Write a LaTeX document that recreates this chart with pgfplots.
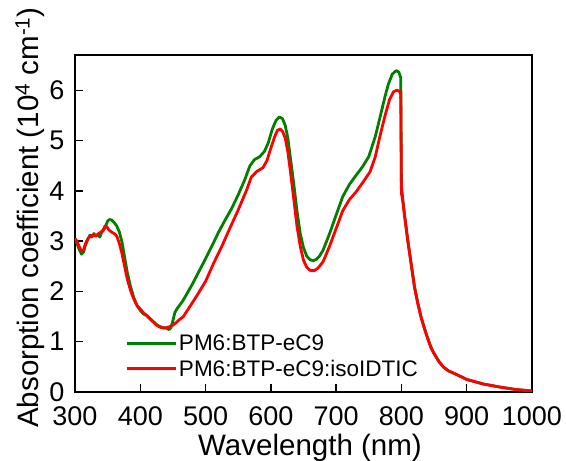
\documentclass[border=0pt]{standalone}
\usepackage{pgfplots}
\pgfplotsset{compat=1.18}
\usepackage{fontspec}
\setmainfont{Liberation Sans}
\definecolor{dgreen}{RGB}{0,128,0}
\begin{document}
\begin{tikzpicture}
\useasboundingbox (-75pt,-69pt) rectangle (491pt,392pt);
\begin{axis}[
  at={(0,0)}, anchor=south west,
  scale only axis, width=457pt, height=337pt,
  xmin=300, xmax=1000, ymin=0, ymax=6.7,
  xtick={300,400,...,1000}, ytick={0,1,...,6},
  tick pos=left, tick align=inside,
  major tick length=8pt,
  axis line style={line width=1.6pt},
  every tick/.style={black, line width=1.4pt},
  /pgf/number format/assume math mode=true,
  /pgf/number format/1000 sep={},
  ticklabel style={font=\fontsize{27}{31}\selectfont, inner sep=0pt},
  xticklabel style={anchor=north, yshift=-14pt},
  yticklabel style={anchor=east, xshift=-10.5pt},
  xlabel={Wavelength (nm)},
  ylabel={Absorption coefficient (10\textsuperscript{4} cm\textsuperscript{-1})},
  label style={font=\fontsize{29.5}{34}\selectfont, inner sep=0pt},
  xlabel style={at={(axis description cs:0.5,0)}, anchor=north, xshift=6.5pt, yshift=-42pt},
  ylabel style={at={(axis description cs:0,0.5)}, anchor=south, xshift=6pt, yshift=30pt},
  legend style={draw=none, fill=none, at={(50pt,12pt)}, anchor=south west,
    font=\fontsize{22.5}{26}\selectfont, row sep=4pt, inner sep=0pt,
    /tikz/every even column/.append style={column sep=0pt}},
  legend cell align=left,
  legend image code/.code={\draw[#1] (0pt,0pt) -- (49pt,0pt);},
  every axis plot/.append style={line width=2.8pt, line join=round},
]
\addplot[dgreen] coordinates {
(300,3.05)(303,2.95)(306,2.85)(310,2.74)(313,2.78)(316,2.92)(320,3.05)(323,3.12)
(326,3.08)(329,3.15)(332,3.10)(335,3.13)(338,3.08)(341,3.18)(344,3.22)(347,3.30)
(350,3.40)(353,3.43)(356,3.42)(360,3.37)(364,3.30)(368,3.18)(372,2.98)(376,2.68)
(380,2.38)(385,2.10)(390,1.88)(395,1.72)(400,1.62)(405,1.55)(410,1.52)(415,1.46)
(420,1.40)(425,1.34)(430,1.30)(435,1.28)(440,1.27)(444,1.24)(447,1.28)(450,1.42)
(453,1.58)(456,1.65)(460,1.72)(465,1.81)(470,1.92)(480,2.15)(490,2.40)(500,2.65)
(510,2.91)(520,3.18)(530,3.42)(540,3.65)(550,3.92)(560,4.22)(568,4.50)(575,4.62)
(583,4.68)(590,4.78)(596,4.95)(602,5.22)(608,5.40)(613,5.47)(618,5.43)(622,5.30)
(626,5.05)(630,4.65)(635,4.15)(640,3.60)(645,3.15)(650,2.87)(655,2.70)(660,2.63)
(665,2.61)(670,2.64)(675,2.71)(680,2.82)(690,3.15)(700,3.52)(710,3.88)(720,4.12)
(730,4.30)(740,4.47)(750,4.68)(760,5.08)(767,5.45)(775,5.88)(780,6.12)(786,6.32)
(792,6.39)(796,6.36)(799,6.25)(800,4.10)(802,3.85)(805,3.50)(810,3.00)(815,2.55)
(820,2.10)(825,1.78)(830,1.50)(835,1.28)(840,1.08)(845,0.90)(850,0.77)(857,0.62)
(864,0.50)(872,0.42)(884,0.35)(900,0.25)(925,0.16)(950,0.10)(975,0.05)(1000,0.02)
};
\addlegendentry{PM6:BTP-eC9}
\addplot[red] coordinates {
(300,3.05)(303,3.00)(306,2.90)(310,2.80)(313,2.82)(316,2.95)(320,3.05)(324,3.10)
(328,3.12)(332,3.10)(336,3.15)(340,3.18)(343,3.22)(346,3.30)(349,3.28)(352,3.22)
(356,3.18)(360,3.15)(364,3.10)(368,2.95)(372,2.75)(376,2.50)(380,2.25)(385,2.02)
(390,1.85)(395,1.72)(400,1.65)(405,1.57)(410,1.52)(415,1.45)(420,1.39)(425,1.33)
(430,1.29)(435,1.27)(440,1.28)(445,1.30)(450,1.33)(455,1.38)(460,1.44)(466,1.50)
(475,1.68)(486,1.90)(500,2.20)(512,2.55)(525,2.90)(537,3.25)(550,3.62)(563,4.02)
(570,4.27)(578,4.38)(588,4.46)(594,4.60)(600,4.85)(606,5.08)(610,5.20)(614,5.23)
(618,5.18)(622,5.05)(626,4.78)(630,4.38)(635,3.85)(640,3.30)(645,2.90)(650,2.62)
(655,2.48)(660,2.42)(666,2.41)(672,2.46)(680,2.59)(690,2.90)(700,3.25)(710,3.60)
(720,3.82)(730,3.97)(740,4.15)(752,4.38)(760,4.68)(767,5.08)(775,5.50)(782,5.82)
(788,5.97)(793,6.00)(797,5.98)(799,5.92)(800,3.95)(802,3.80)(805,3.48)(810,2.98)
(815,2.53)(820,2.08)(825,1.76)(830,1.49)(835,1.27)(840,1.07)(845,0.89)(850,0.76)
(857,0.61)(864,0.50)(872,0.42)(884,0.35)(900,0.25)(925,0.16)(950,0.10)(975,0.05)(1000,0.02)
};
\addlegendentry{PM6:BTP-eC9:isoIDTIC}
\end{axis}
\end{tikzpicture}
\end{document}
